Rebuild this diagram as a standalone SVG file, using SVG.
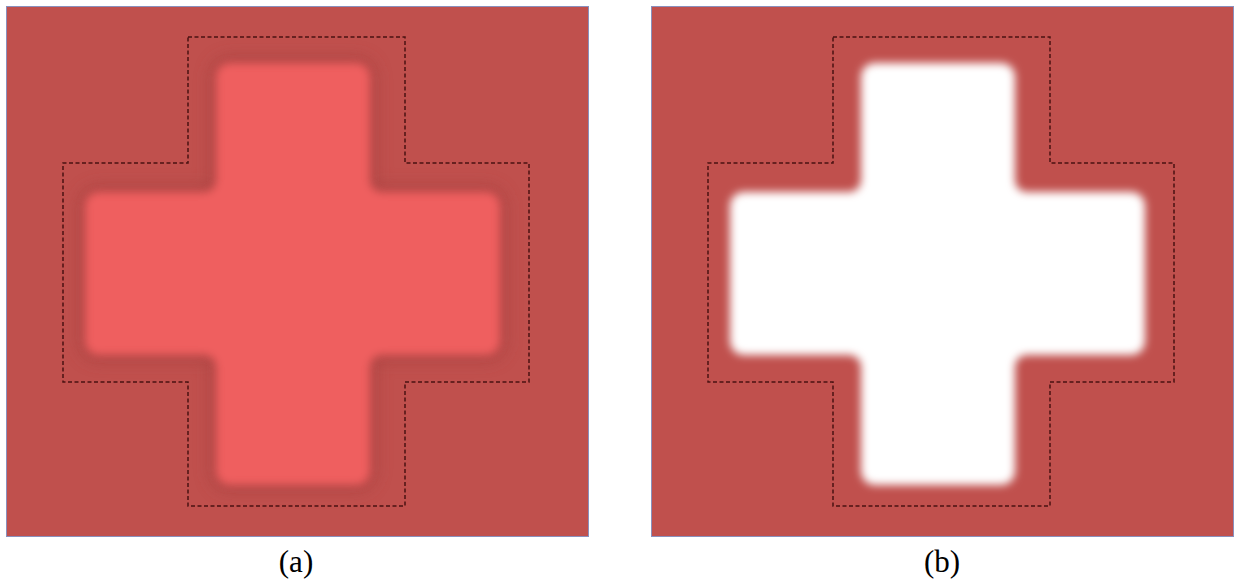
<svg xmlns="http://www.w3.org/2000/svg" width="1239" height="581" viewBox="0 0 1239 581">
  <style>
    .panel { fill: #c0504d; stroke: #8a90bd; stroke-width: 1; }
    .outline { fill: none; stroke: #4a1212; stroke-width: 1.5; stroke-dasharray: 4 2.5; }
    .label { font-family: "Liberation Serif", "Times New Roman", serif; font-size: 31px; fill: #000; text-anchor: middle; }
  </style>
  <defs>
    <filter id="blurSoft" x="-20%" y="-20%" width="140%" height="140%">
      <feGaussianBlur stdDeviation="4"/>
    </filter>
    <filter id="blurHalo" x="-20%" y="-20%" width="140%" height="140%">
      <feGaussianBlur stdDeviation="8"/>
    </filter>
    <path id="cross" d="M230,63 H356 A14 14 0 0 1 370,77 V180 A12 12 0 0 0 382,192 H486 A14 14 0 0 1 500,206 V341 A14 14 0 0 1 486,355 H382 A12 12 0 0 0 370,367 V471 A14 14 0 0 1 356,485 H230 A14 14 0 0 1 216,471 V367 A12 12 0 0 0 204,355 H99 A14 14 0 0 1 85,341 V206 A14 14 0 0 1 99,192 H204 A12 12 0 0 0 216,180 V77 A14 14 0 0 1 230,63 Z"/>
  </defs>
  <rect width="1239" height="581" fill="#ffffff"/>

  <g id="panel-a">
    <rect class="panel" x="6.5" y="6.5" width="582" height="530"/>
    <use href="#cross" fill="#a33d3d" opacity="0.6" stroke="#a33d3d" stroke-width="12" stroke-linejoin="round" filter="url(#blurHalo)"/>
    <use href="#cross" fill="#ef5f5e" filter="url(#blurSoft)"/>
    <path class="outline" d="M188,37 H405 V163 H529 V382 H405 V506 H188 V382 H63 V163 H188 Z"/>
  </g>

  <g id="panel-b">
    <rect class="panel" x="651.5" y="6.5" width="582" height="530"/>
    <use href="#cross" transform="translate(645,0)" fill="#ffffff" filter="url(#blurSoft)"/>
    <path class="outline" d="M833,37 H1050 V163 H1174 V382 H1050 V506 H833 V382 H708 V163 H833 Z"/>
  </g>

  <g id="labels">
    <text class="label" x="296" y="572">(a)</text>
    <text class="label" x="942" y="572">(b)</text>
  </g>
</svg>
